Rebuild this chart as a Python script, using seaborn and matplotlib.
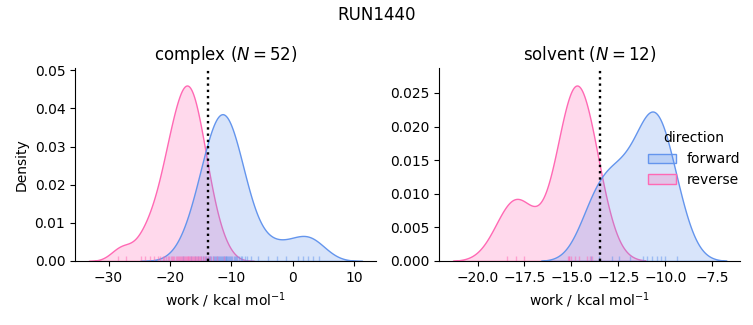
import matplotlib
matplotlib.use("Agg")
import matplotlib.pyplot as plt
import pandas as pd
import seaborn as sns

# ---- data (kcal/mol work values) ----
complex_forward = [
    -17.79, -16.51, -15.85, -15.37, -14.98, -14.65, -14.35, -14.10, -13.86, -13.63,
    -13.43, -13.23, -13.04, -12.85, -12.68, -12.51, -12.34, -12.17, -12.01, -11.85,
    -11.69, -11.53, -11.38, -11.22, -11.08, -10.93, -10.78, -10.63, -10.47, -10.32,
    -10.15, -9.98, -9.80, -9.62, -9.42, -9.21, -9.00, -8.75, -8.48, -8.17,
    -7.81, -7.38, -6.76, -5.58, -4.00, -2.60, -1.00, 0.80, 1.70, 2.50,
    3.40, 4.30,
]
complex_reverse = [
    -28.40, -27.10, -24.00, -24.67, -23.25, -22.52, -21.99, -21.56, -21.20, -20.89,
    -20.61, -20.35, -20.11, -19.88, -19.67, -19.46, -19.27, -19.07, -18.90, -18.72,
    -18.54, -18.37, -18.21, -18.05, -17.89, -17.72, -17.56, -17.40, -17.26, -17.12,
    -16.98, -16.84, -16.70, -16.56, -16.41, -16.27, -16.11, -15.95, -15.79, -15.62,
    -15.44, -15.26, -15.06, -14.86, -14.63, -14.38, -14.11, -13.80, -13.44, -12.98,
    -12.35, -11.13,
]
solvent_forward = [
    -13.95, -13.55, -12.85, -12.45, -11.90, -11.20, -10.95, -10.70, -10.45, -10.25,
    -10.00, -9.40,
]
solvent_reverse = [
    -18.45, -17.95, -17.50, -15.20, -15.15, -15.10, -15.01, -14.79, -14.61, -14.19,
    -14.01, -13.92,
]

phases = ["complex", "solvent"]
directions = ["forward", "reverse"]
n_label = {"complex": 52, "solvent": 12}
dg_estimate = {"complex": -13.87, "solvent": -13.47}
palette = {"forward": "cornflowerblue", "reverse": "hotpink"}

values = {
    ("complex", "forward"): complex_forward,
    ("complex", "reverse"): complex_reverse,
    ("solvent", "forward"): solvent_forward,
    ("solvent", "reverse"): solvent_reverse,
}
frames = []
for (phase, direction), w in values.items():
    frames.append(pd.DataFrame({"work": w, "phase": phase, "direction": direction}))
df = pd.concat(frames, ignore_index=True)

g = sns.displot(
    data=df, x="work", hue="direction", col="phase", kind="kde",
    fill=True, rug=True, rug_kws=dict(alpha=0.5), palette=palette,
    hue_order=directions, col_order=phases,
    facet_kws=dict(sharex=False, sharey=False),
    height=3.25, aspect=1.1,
)

for ax, phase in zip(g.axes.flat, phases):
    ax.set_title(f"{phase} ($N = {n_label[phase]}$)", fontsize=12)
    ax.axvline(dg_estimate[phase], color="k", ls=":", lw=1.7)
    ax.set_xlabel("work / kcal mol$^{-1}$")
g.axes.flat[0].set_ylabel("Density")

fig = g.figure
fig.set_size_inches(7.53, 3.25)
fig.suptitle("RUN1440", fontsize=12)
fig.subplots_adjust(left=0.0996, right=0.983, bottom=0.197, top=0.791, wspace=0.21)
sns.move_legend(g, "center right", bbox_to_anchor=(1.0, 0.51), frameon=False)

fig.savefig("out.png", dpi=100)
